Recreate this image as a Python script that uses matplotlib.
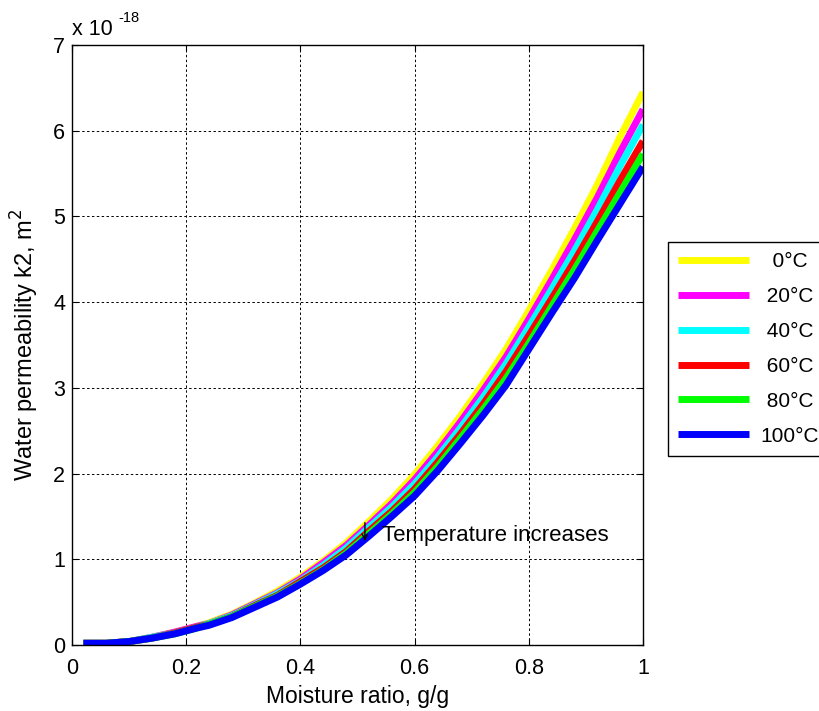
import numpy as np
import matplotlib.pyplot as plt

plt.rcParams['font.family'] = ['Liberation Sans', 'DejaVu Sans']

# moisture ratio, g/g
moisture = [0.02, 0.06, 0.10, 0.14, 0.18, 0.22, 0.24, 0.28, 0.32, 0.36, 0.40, 0.44, 0.48,
            0.52, 0.56, 0.60, 0.64, 0.68, 0.72, 0.76, 0.80, 0.84, 0.88, 0.92, 0.96, 1.00]

# water permeability k2, x 1e-18 m^2
k_0 = [0.02, 0.02, 0.04, 0.09, 0.15, 0.22, 0.26, 0.36, 0.49, 0.63, 0.79, 0.98, 1.19,
       1.44, 1.70, 1.99, 2.32, 2.67, 3.05, 3.45, 3.90, 4.37, 4.86, 5.37, 5.93, 6.45]
k_20 = [0.02, 0.02, 0.04, 0.09, 0.15, 0.22, 0.25, 0.35, 0.48, 0.61, 0.77, 0.96, 1.16,
        1.40, 1.65, 1.93, 2.25, 2.60, 2.97, 3.36, 3.80, 4.26, 4.73, 5.22, 5.75, 6.25]
k_40 = [0.02, 0.02, 0.04, 0.09, 0.14, 0.21, 0.25, 0.34, 0.47, 0.60, 0.75, 0.93, 1.13,
        1.37, 1.61, 1.88, 2.19, 2.53, 2.89, 3.28, 3.71, 4.15, 4.60, 5.08, 5.59, 6.07]
k_60 = [0.02, 0.02, 0.04, 0.08, 0.14, 0.21, 0.24, 0.33, 0.46, 0.58, 0.74, 0.90, 1.09,
        1.33, 1.56, 1.82, 2.13, 2.46, 2.81, 3.19, 3.61, 4.04, 4.48, 4.94, 5.42, 5.88]
k_80 = [0.02, 0.02, 0.04, 0.08, 0.13, 0.20, 0.24, 0.33, 0.45, 0.57, 0.72, 0.88, 1.07,
        1.30, 1.53, 1.78, 2.08, 2.41, 2.75, 3.11, 3.52, 3.95, 4.38, 4.83, 5.28, 5.73]
k_100 = [0.02, 0.02, 0.04, 0.08, 0.13, 0.20, 0.23, 0.32, 0.44, 0.56, 0.71, 0.87, 1.05,
         1.27, 1.50, 1.74, 2.03, 2.35, 2.68, 3.03, 3.45, 3.87, 4.28, 4.72, 5.15, 5.58]

series = [k_0, k_20, k_40, k_60, k_80, k_100]
labels = ['  0\u00b0C', ' 20\u00b0C', ' 40\u00b0C', ' 60\u00b0C', ' 80\u00b0C', '100\u00b0C']
colors = ['#ffff00', '#ff00ff', '#00ffff', '#ff0000', '#00ff00', '#0000ff']

fig = plt.figure(figsize=(8.2, 7.11), dpi=100)
ax = fig.add_axes([72 / 820, 1 - 645 / 711, (643 - 72) / 820, 600 / 711])

for k, lab, c in zip(series, labels, colors):
    ax.plot(moisture, k, color=c, lw=5, label=lab, solid_capstyle='butt')

ax.set_xlim(0, 1)
ax.set_ylim(0, 7)
ax.set_xticks([0, 0.2, 0.4, 0.6, 0.8, 1])
ax.set_xticklabels(['0', '0.2', '0.4', '0.6', '0.8', '1'])
ax.set_yticks(range(8))
ax.grid(True, color='black', linestyle=(0, (2.5, 2.5)), lw=0.7)
ax.tick_params(direction='in', top=True, right=True, labelsize=15.5, length=4)
ax.tick_params(axis='x', pad=9)
ax.tick_params(axis='y', pad=5)
for s in ax.spines.values():
    s.set_linewidth(1.0)

ax.set_xlabel('Moisture ratio, g/g', fontsize=16.5)
ax.xaxis.set_label_coords(0.5, -0.066)
ax.set_ylabel('Water permeability k2, m$^2$', fontsize=17)
ax.yaxis.set_label_coords(-0.055, 0.5)

# exponent label like matlab
fig.text(72 / 820, 1 - 35 / 711, 'x 10', fontsize=15.5, ha='left', va='baseline')
fig.text(118 / 820, 1 - 22 / 711, '-18', fontsize=10.5, ha='left', va='baseline')

# annotation
ax.annotate('', xy=(0.513, 1.18), xytext=(0.513, 1.46),
            arrowprops=dict(arrowstyle='->', color='black', lw=1))
ax.text(0.543, 1.28, 'Temperature increases', fontsize=16, va='center', ha='left')

leg = fig.legend(loc='upper left', bbox_to_anchor=(668 / 820, 1 - 242 / 711),
                 borderaxespad=0, fontsize=15, handlelength=3.4, labelspacing=0.76,
                 fancybox=False, framealpha=1, edgecolor='black', borderpad=0.5,
                 handletextpad=0.55)
leg.get_frame().set_linewidth(1.0)

fig.savefig('out.png', dpi=100)
